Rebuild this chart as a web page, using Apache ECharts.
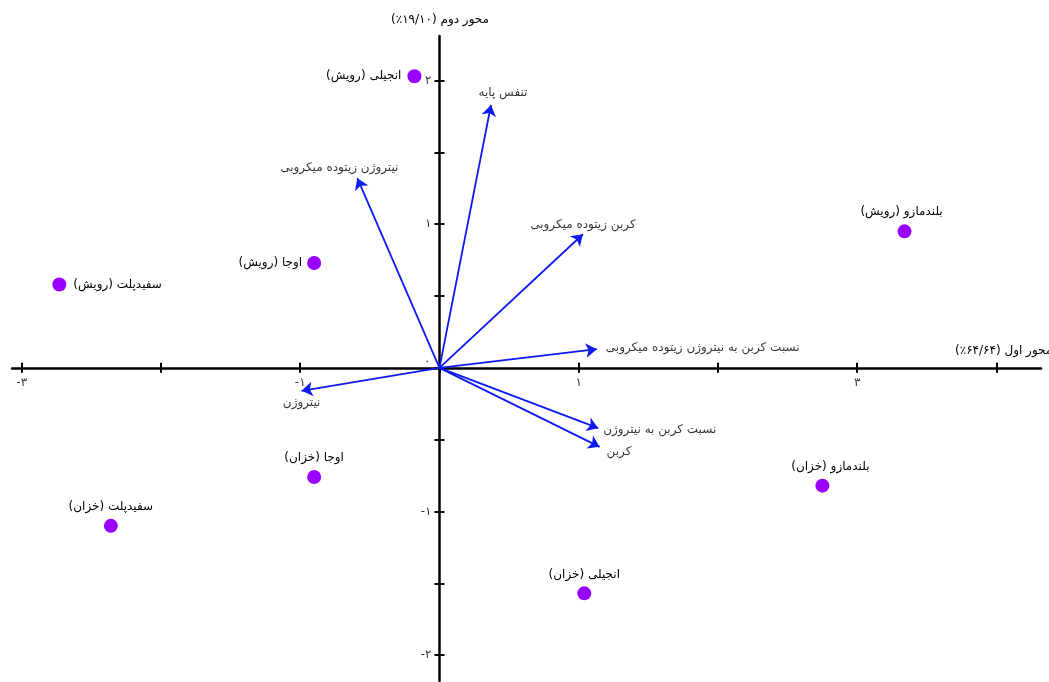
<!DOCTYPE html>
<html>
<head>
<meta charset="utf-8">
<title>Biplot</title>
<script src="https://cdn.jsdelivr.net/npm/echarts@6/dist/echarts.min.js"></script>
<style>
  html, body { margin: 0; padding: 0; background: #fff; }
  #chart { width: 1049px; height: 682px; }
</style>
</head>
<body>
<div id="chart"></div>
<script>
// Sample scores (first and second components)
const sampleNames = [
  'انجیلی (رویش)', 'بلندمازو (رویش)', 'اوجا (رویش)', 'سفیدپلت (رویش)',
  'اوجا (خزان)', 'سفیدپلت (خزان)', 'بلندمازو (خزان)', 'انجیلی (خزان)'
];
const sampleX = [-0.18, 3.34, -0.90, -2.73, -0.90, -2.36, 2.75, 1.04];
const sampleY = [2.03, 0.95, 0.73, 0.58, -0.76, -1.10, -0.82, -1.57];

// Variable loadings drawn as arrows from the origin
const varNames = [
  'تنفس پایه', 'نیتروژن زیتوده میکروبی', 'کربن زیتوده میکروبی',
  'نسبت کربن به نیتروژن زیتوده میکروبی', 'نیتروژن',
  'نسبت کربن به نیتروژن', 'کربن'
];
const varX = [0.37, -0.59, 1.03, 1.13, -0.99, 1.14, 1.15];
const varY = [1.83, 1.32, 0.93, 0.13, -0.16, -0.42, -0.55];

// Axis ticks and labels
const xTickValues = [-3, -2, -1, 0, 1, 2, 3, 4];
const xLabelValues = [-3, -1, 1, 3];
const yTickValues = [-2, -1.5, -1, -0.5, 0, 0.5, 1, 1.5, 2];
const yLabelValues = [-2, -1, 1, 2];
const originLabel = 0;
const xAxisTitle = 'محور اول (۶۴/۶۴٪)';
const yAxisTitle = 'محور دوم (۱۹/۱۰٪)';

// Label placement for each sample point
const samplePlacement = [
  { position: 'left', distance: 6 },
  { position: 'top', distance: 6, offset: [-3, 0] },
  { position: 'left', distance: 5 },
  { position: 'right', distance: 7 },
  { position: 'top', distance: 6 },
  { position: 'top', distance: 6 },
  { position: 'top', distance: 6, offset: [8, 0] },
  { position: 'top', distance: 5 }
];
// Label placement for each arrow tip
const varPlacement = [
  { position: 'top', distance: 6, offset: [12, 0] },
  { position: 'top', distance: 4, offset: [-18, 0] },
  { position: 'top', distance: 3 },
  { position: 'right', distance: 9, offset: [0, -1] },
  { position: 'bottom', distance: 6 },
  { position: 'right', distance: 5, offset: [0, 2] },
  { position: 'right', distance: 7, offset: [0, 5] }
];

const PERSIAN_DIGITS = '۰۱۲۳۴۵۶۷۸۹';
function toPersian(v) {
  return String(v).replace(/[0-9]/g, d => PERSIAN_DIGITS[+d]);
}
// Right-to-left embedding so parentheses in Persian labels sit correctly
function rtl(s) {
  return '\u202B' + s + '\u202C';
}

const FONT = 'DejaVu Sans';
const TEXT_COLOR = '#000';
const AXIS_COLOR = '#000';
const POINT_COLOR = '#9a00ff';
const ARROW_COLOR = '#0d1af2';

const X_MIN = -3.07, X_MAX = 4.32;
const Y_MIN = -2.18, Y_MAX = 2.31;

const gridRect = {
  left: 12, right: 8, top: 36, bottom: 1,
  containLabel: false, outerBoundsMode: 'none'
};

// Each direction gets two axes on identical grids: one with ticks below/left,
// one with ticks above/right, so the tick marks cross the axis line.
function xAxisDef(gridIndex, inside) {
  return {
    type: 'value', gridIndex: gridIndex, min: X_MIN, max: X_MAX,
    splitLine: { show: false },
    axisLine: { show: !inside, onZero: true, lineStyle: { color: AXIS_COLOR, width: 2.5 } },
    axisTick: { show: true, inside: inside, length: 5, customValues: xTickValues,
      lineStyle: { color: AXIS_COLOR, width: 2 } },
    axisLabel: { show: false }
  };
}
function yAxisDef(gridIndex, inside) {
  return {
    type: 'value', gridIndex: gridIndex, min: Y_MIN, max: Y_MAX,
    splitLine: { show: false },
    axisLine: { show: !inside, onZero: true, lineStyle: { color: AXIS_COLOR, width: 2.5 } },
    axisTick: { show: true, inside: inside, length: 5, customValues: yTickValues,
      lineStyle: { color: AXIS_COLOR, width: 2 } },
    axisLabel: { show: false }
  };
}

const textStyle = { color: TEXT_COLOR, fontFamily: FONT, fontSize: 12 };

const pointData = sampleNames.map((n, i) => ({
  name: n,
  value: [sampleX[i], sampleY[i]],
  label: Object.assign({}, samplePlacement[i])
}));

const arrowData = varNames.map((n, i) => ({
  name: n,
  coords: [[0, 0], [varX[i], varY[i]]]
}));

const tipData = varNames.map((n, i) => ({
  name: n,
  value: [varX[i], varY[i]],
  label: Object.assign({}, varPlacement[i])
}));

// Tick labels placed on the axis lines through the origin
const tickLabelData = []
  .concat(xLabelValues.map(v => ({
    name: toPersian(v), value: [v, 0],
    label: { position: 'bottom', distance: 9 }
  })))
  .concat(yLabelValues.map(v => ({
    name: toPersian(v), value: [0, v],
    label: { position: 'left', distance: 8 }
  })))
  .concat([{
    name: toPersian(originLabel), value: [0, 0],
    label: { position: 'left', distance: 9, offset: [0, -6] }
  }]);

const chart = echarts.init(document.getElementById('chart'), null, { renderer: 'canvas' });
chart.setOption({
  backgroundColor: '#fff',
  animation: false,
  grid: [Object.assign({}, gridRect), Object.assign({}, gridRect)],
  xAxis: [xAxisDef(0, false), xAxisDef(1, true)],
  yAxis: [yAxisDef(0, false), yAxisDef(1, true)],
  graphic: [
    {
      type: 'text', x: 955, y: 351,
      style: { text: rtl(xAxisTitle), font: '12px "' + FONT + '"', fill: TEXT_COLOR,
        align: 'left', verticalAlign: 'middle' }
    },
    {
      type: 'text', x: 440, y: 20,
      style: { text: rtl(yAxisTitle), font: '12px "' + FONT + '"', fill: TEXT_COLOR,
        align: 'center', verticalAlign: 'middle' }
    }
  ],
  series: [
    {
      type: 'lines',
      coordinateSystem: 'cartesian2d',
      xAxisIndex: 0, yAxisIndex: 0,
      symbol: ['none', 'arrow'],
      symbolSize: 11,
      lineStyle: { color: ARROW_COLOR, width: 1.8, opacity: 1 },
      data: arrowData,
      z: 3
    },
    {
      type: 'scatter',
      xAxisIndex: 0, yAxisIndex: 0,
      symbolSize: 0,
      data: tickLabelData,
      label: Object.assign({ show: true, formatter: p => p.name }, textStyle),
      silent: true,
      z: 4
    },
    {
      type: 'scatter',
      xAxisIndex: 0, yAxisIndex: 0,
      symbolSize: 0,
      data: tipData,
      label: Object.assign({ show: true, formatter: p => rtl(p.name) }, textStyle),
      silent: true,
      z: 4
    },
    {
      type: 'scatter',
      xAxisIndex: 0, yAxisIndex: 0,
      symbol: 'circle',
      symbolSize: 14,
      itemStyle: { color: POINT_COLOR, opacity: 1 },
      data: pointData,
      label: Object.assign({ show: true, formatter: p => rtl(p.name) }, textStyle),
      z: 5
    }
  ]
});
</script>
</body>
</html>
